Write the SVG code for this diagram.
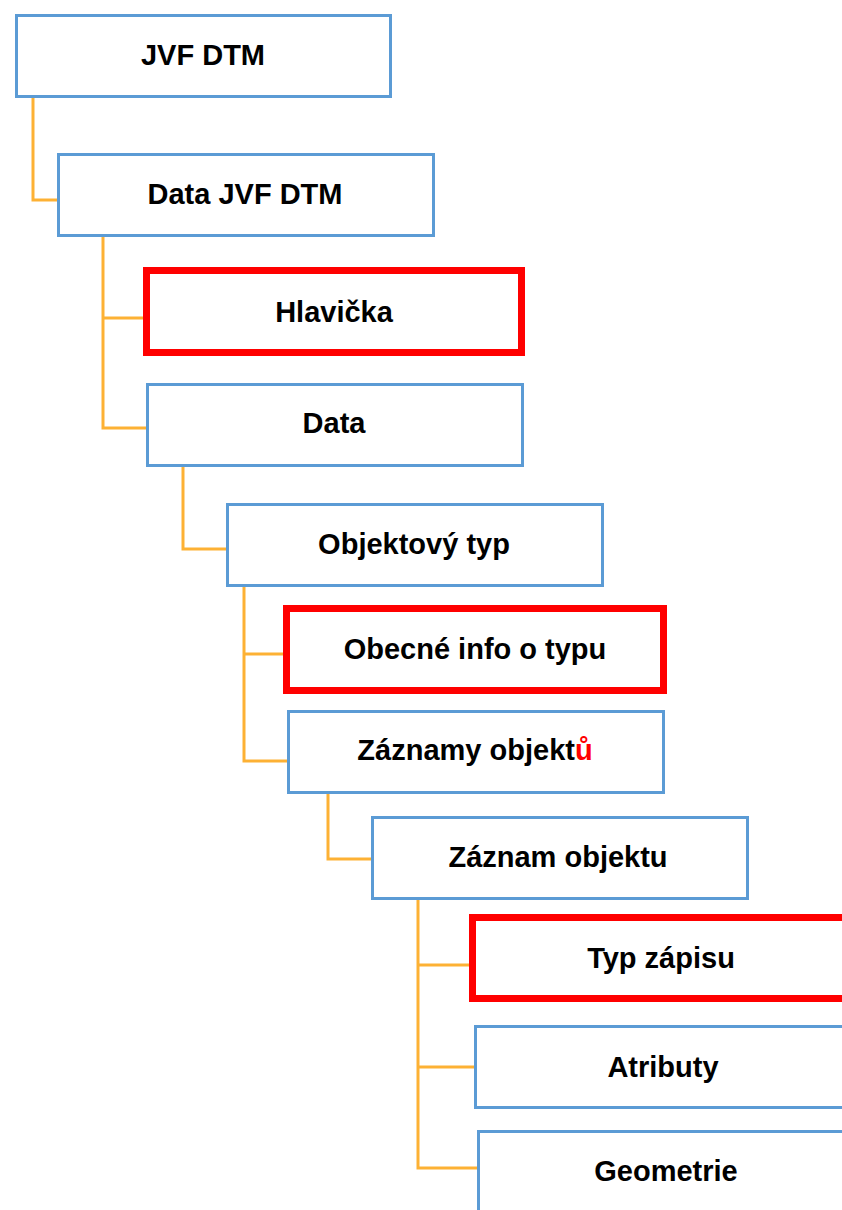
<svg xmlns="http://www.w3.org/2000/svg" width="842" height="1210" viewBox="0 0 842 1210">
<style>
.b{fill:#fff;stroke:#5B9BD5;stroke-width:3}
.r{fill:#fff;stroke:#FF0000;stroke-width:7}
.t{font-family:"Liberation Sans",Arial,sans-serif;font-weight:bold;font-size:29px;fill:#000;text-anchor:middle}
.c{fill:none;stroke:#FDB134;stroke-width:3}
</style>
<rect width="842" height="1210" fill="#fff"/>
<g id="connectors">
<path class="c" d="M33 97 V200 H57"/>
<path class="c" d="M103 237 V428 H147 M103 318 H143"/>
<path class="c" d="M183 466 V549 H226"/>
<path class="c" d="M244 587 V761 H287 M244 654 H284"/>
<path class="c" d="M328 794 V859 H371"/>
<path class="c" d="M418 899 V1168 H478 M418 965 H470 M418 1067 H475"/>
</g>
<g id="n1"><rect class="b" x="16.5" y="15.5" width="374" height="81"/><text class="t" x="203" y="65">JVF DTM</text></g>
<g id="n2"><rect class="b" x="58.5" y="154.5" width="375" height="81"/><text class="t" x="245" y="204">Data JVF DTM</text></g>
<g id="n3"><rect class="r" x="146.5" y="270.5" width="375" height="82"/><text class="t" x="334" y="322">Hlavička</text></g>
<g id="n4"><rect class="b" x="147.5" y="384.5" width="375" height="81"/><text class="t" x="334" y="433">Data</text></g>
<g id="n5"><rect class="b" x="227.5" y="504.5" width="375" height="81"/><text class="t" x="414" y="554">Objektový typ</text></g>
<g id="n6"><rect class="r" x="286.5" y="608.5" width="377" height="82"/><text class="t" x="475" y="659">Obecné info o typu</text></g>
<g id="n7"><rect class="b" x="288.5" y="711.5" width="375" height="81"/><text class="t" x="475" y="760">Záznamy objekt<tspan fill="#FF0000">ů</tspan></text></g>
<g id="n8"><rect class="b" x="372.5" y="817.5" width="375" height="81"/><text class="t" x="558" y="867">Záznam objektu</text></g>
<g id="n9"><rect class="r" x="472.5" y="917.5" width="377" height="81"/><text class="t" x="661" y="968">Typ zápisu</text></g>
<g id="n10"><rect class="b" x="475.5" y="1026.5" width="375" height="81"/><text class="t" x="663" y="1077">Atributy</text></g>
<g id="n11"><rect class="b" x="478.5" y="1131.5" width="375" height="81"/><text class="t" x="666" y="1181">Geometrie</text></g>
</svg>
